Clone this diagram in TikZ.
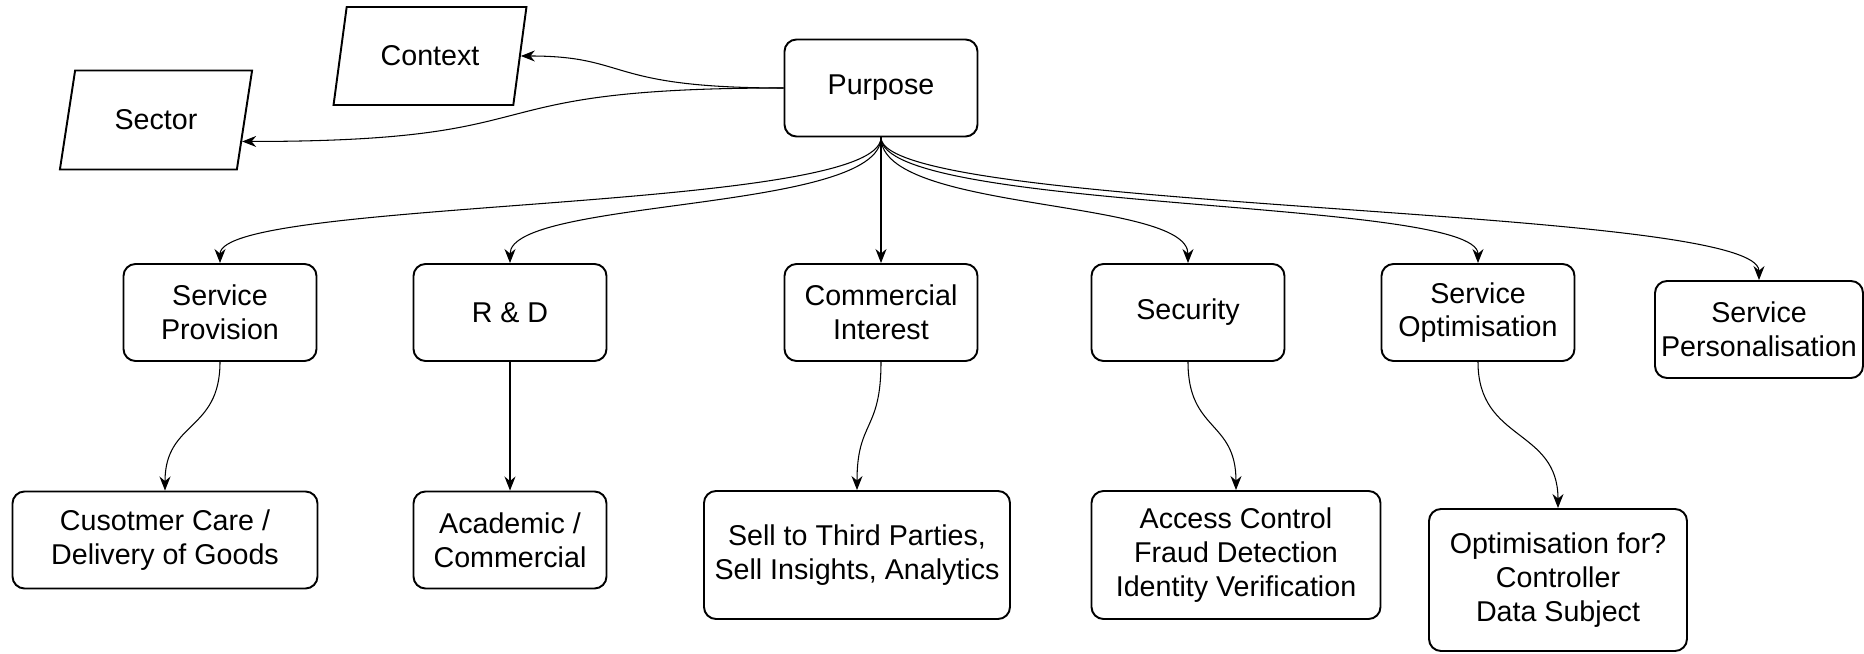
\documentclass[tikz,border=0pt]{standalone}
\usepackage{fontspec}
\setmainfont{Liberation Sans}
\usetikzlibrary{shapes.geometric,arrows.meta}

\tikzset{
  box/.style={draw,fill=white,rounded corners=0.24cm,line width=1.1pt,align=center,
    minimum width=3.86cm,minimum height=1.94cm,inner sep=0pt,
    font=\fontsize{16.3}{19.2}\selectfont},
  para/.style={draw,fill=white,trapezium,trapezium left angle=69,trapezium right angle=111,
    trapezium stretches=true,line width=1.1pt,minimum width=3.88cm,minimum height=1.96cm,
    inner sep=0pt,font=\fontsize{16.3}{19.2}\selectfont},
  link/.style={-{Stealth[length=0.28cm,width=0.22cm]},line width=0.6pt}
}

\begin{document}
\begin{tikzpicture}
      \fill[white] (0,0) rectangle (37.28,13.08);
      \useasboundingbox (0,0) rectangle (37.28,13.08);
      \node[box] (purpose) at (17.62,11.32) {Purpose};
      \node[para] (context) at (8.60,11.96) {Context};
      \node[para,minimum width=3.86cm,minimum height=1.98cm] (sector) at (3.12,10.68) {Sector};
      \node[box] (prov) at (4.40,6.83) {Service\\Provision};
      \node[box] (rnd) at (10.20,6.83) {R \& D};
      \node[box] (comm) at (17.62,6.83) {Commercial\\Interest};
      \node[box] (secu) at (23.76,6.83) {Security};
      \node[box] (opti) at (29.56,6.83) {Service\\Optimisation};
      \node[box,minimum width=4.16cm] (pers) at (35.18,6.49) {Service\\Personalisation};
      \node[box,minimum width=6.10cm] (care) at (3.30,2.28) {Cusotmer Care /\\Delivery of Goods};
      \node[box] (acad) at (10.20,2.28) {Academic /\\Commercial};
      \node[box,minimum width=6.12cm,minimum height=2.56cm] (sell) at (17.14,1.98) {Sell to Third Parties,\\Sell Insights, Analytics};
      \node[box,minimum width=5.78cm,minimum height=2.56cm] (acce) at (24.72,1.98) {Access Control\\Fraud Detection\\Identity Verification};
      \node[box,minimum width=5.16cm,minimum height=2.84cm] (optfor) at (31.16,1.48) {Optimisation for?\\Controller\\Data Subject};
      % purpose to context / sector
      \draw[link] (purpose.west) .. controls +(-3.6,0) and +(2.2,0) .. (context.east);
      \draw[link] (purpose.west) .. controls +(-6.6,0) and +(6.6,0) .. (sector.-14);
      % purpose to the six kinds
      \draw[link] (purpose.south) .. controls +(0,-1.5) and +(0,1.3) .. (prov.north);
      \draw[link] (purpose.south) .. controls +(0,-1.5) and +(0,1.3) .. (rnd.north);
      \draw[link] (purpose.south) -- (comm.north);
      \draw[link] (purpose.south) .. controls +(0,-1.5) and +(0,1.3) .. (secu.north);
      \draw[link] (purpose.south) .. controls +(0,-1.5) and +(0,1.3) .. (opti.north);
      \draw[link] (purpose.south) .. controls +(0,-1.5) and +(0,1.5) .. (pers.north);
      % kinds to examples
      \draw[link] (prov.south) .. controls +(0,-1.4) and +(0,1.4) .. (care.north);
      \draw[link] (rnd.south) -- (acad.north);
      \draw[link] (comm.south) .. controls +(0,-1.4) and +(0,1.4) .. (sell.north);
      \draw[link] (secu.south) .. controls +(0,-1.4) and +(0,1.4) .. (acce.north);
      \draw[link] (opti.south) .. controls +(0,-1.6) and +(0,1.6) .. (optfor.north);
    \end{tikzpicture}
\end{document}
